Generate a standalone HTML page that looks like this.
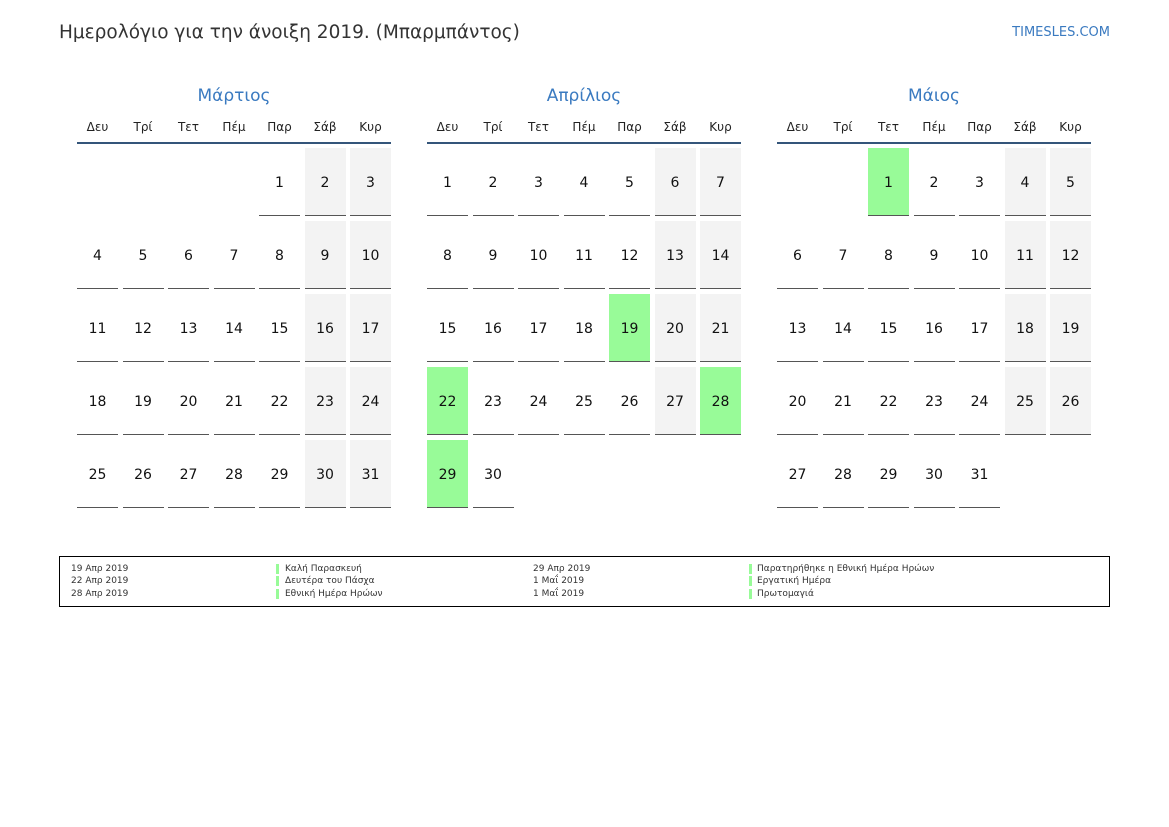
<!DOCTYPE html>
<html><head><meta charset="utf-8"><style>
body{margin:0;width:1169px;height:827px;background:#fff;font-family:"DejaVu Sans","Liberation Sans",sans-serif;position:relative;overflow:hidden}
.a{position:absolute}
.t{left:59px;top:22px;font-size:18.5px;color:#333}
.l{right:59px;top:25px;font-size:13px;color:#3a7ac0}
.m{font-size:17px;color:#3a7ac0;text-align:center;width:314px;top:86px}
.dn{font-size:12px;color:#222;text-align:center;width:41px;top:120px}
.hl{height:2px;background:#34557a;width:314px;top:142px}
.c{width:41px;height:67px;border-bottom:1px solid #555;text-align:center;line-height:70px;font-size:14px;color:#111}
.w{background:#f3f3f3}.h{background:#98fb98}
.lg{left:59px;top:556px;width:1049px;height:49px;border:1px solid #000}
.s{font-size:9px;color:#333}
.b{width:3px;height:10px;background:#98fb98}
</style></head><body>
<div class="a t">Ημερολόγιο για την άνοιξη 2019. (Μπαρμπάντος)</div>
<div class="a l">TIMESLES.COM</div>
<div class="a lg"></div>
<div id="r"></div>
<script>
var names=["Μάρτιος","Απρίλιος","Μάιος"],off=[4,0,2],len=[31,30,31];
var dn=["Δευ","Τρί","Τετ","Πέμ","Παρ","Σάβ","Κυρ"];
var hol={1:[19,22,28,29],2:[1]};
var h="";
for(var m=0;m<3;m++){var x0=77+m*350;
h+='<div class="a m" style="left:'+x0+'px">'+names[m]+'</div>';
h+='<div class="a hl" style="left:'+x0+'px"></div>';
for(var i=0;i<7;i++)h+='<div class="a dn" style="left:'+(x0+i*45.5)+'px">'+dn[i]+'</div>';
for(var d=1;d<=len[m];d++){var p=off[m]+d-1,col=p%7,row=Math.floor(p/7);
var cls="c";if((hol[m]||[]).indexOf(d)>=0)cls+=" h";else if(col>=5)cls+=" w";
h+='<div class="a '+cls+'" style="left:'+(x0+col*45.5)+'px;top:'+(148+row*73)+'px">'+d+'</div>';}}
var L=[["19 Απρ 2019","Καλή Παρασκευή","29 Απρ 2019","Παρατηρήθηκε η Εθνική Ημέρα Ηρώων"],["22 Απρ 2019","Δευτέρα του Πάσχα","1 Μαΐ 2019","Εργατική Ημέρα"],["28 Απρ 2019","Εθνική Ημέρα Ηρώων","1 Μαΐ 2019","Πρωτομαγιά"]];
for(var i=0;i<3;i++){var y=563.5+i*12.5;
h+='<div class="a s" style="left:71px;top:'+y+'px">'+L[i][0]+'</div>';
h+='<div class="a b" style="left:276px;top:'+(y+0)+'px"></div>';
h+='<div class="a s" style="left:285px;top:'+y+'px">'+L[i][1]+'</div>';
h+='<div class="a s" style="left:533px;top:'+y+'px">'+L[i][2]+'</div>';
h+='<div class="a b" style="left:749px;top:'+(y+0)+'px"></div>';
h+='<div class="a s" style="left:757px;top:'+y+'px">'+L[i][3]+'</div>';}
document.getElementById("r").innerHTML=h;
</script>
</body></html>
